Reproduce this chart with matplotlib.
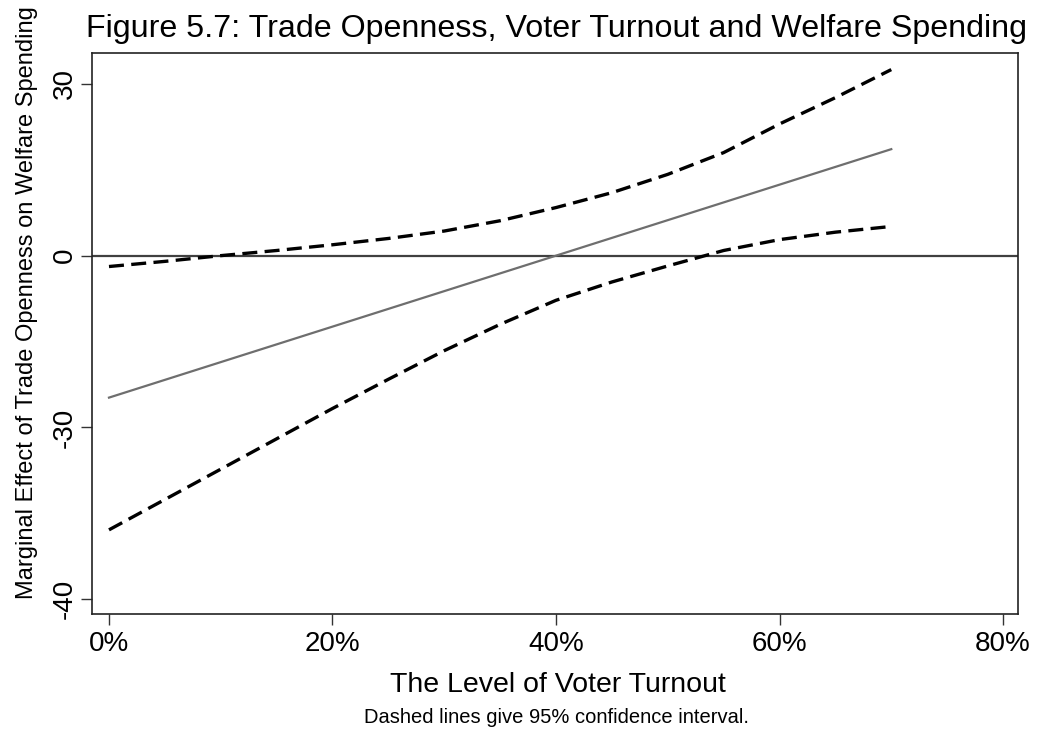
import matplotlib
matplotlib.use("Agg")
import matplotlib.pyplot as plt

plt.rcParams["font.family"] = ["Liberation Sans", "DejaVu Sans"]

# Voter turnout (%) at which the marginal effect is evaluated
turnout = [0, 5, 10, 15, 20, 25, 30, 35, 40, 45, 50, 55, 60, 65, 70]

# Marginal effect of trade openness and its 95% confidence bounds
effect = [-24.8, -21.7, -18.6, -15.5, -12.4, -9.3, -6.2, -3.1, 0.0,
          3.1, 6.2, 9.3, 12.4, 15.5, 18.6]
upper = [-1.9, -1.0, 0.0, 0.9, 1.9, 3.0, 4.3, 6.1, 8.4,
         11.0, 14.2, 18.0, 23.0, 27.6, 32.5]
lower = [-47.9, -42.6, -37.3, -32.0, -26.7, -21.6, -16.6, -12.0, -7.8,
         -4.6, -1.8, 0.9, 2.8, 4.1, 5.1]

xticks = [0, 20, 40, 60, 80]
xticklabels = ["0%", "20%", "40%", "60%", "80%"]
yticks = [30, 0, -30, -60]
yticklabels = ["30", "0", "-30", "-40"]

W, H = 1039, 736
fig = plt.figure(figsize=(W / 100, H / 100), dpi=100)
ax = fig.add_axes([92 / W, 1 - 614 / H, (1018 - 92) / W, (614 - 53) / H])

ax.axhline(0, color="#404040", lw=1.6, zorder=1)
ax.plot(turnout, effect, color="#6e6e6e", lw=1.6, zorder=2)
ax.plot(turnout, upper, color="black", lw=2.4, ls=(0, (4.5, 2.2)), zorder=3)
ax.plot(turnout, lower, color="black", lw=2.4, ls=(0, (4.5, 2.2)), zorder=3)

ax.set_xlim(-1.52, 81.34)
ax.set_ylim(-62.6, 35.4)

ax.set_xticks(xticks)
ax.set_xticklabels(xticklabels)
ax.set_yticks(yticks)
ax.set_yticklabels(yticklabels, rotation=90, va="center")

ax.tick_params(axis="both", direction="out", length=8, width=1, color="#333333",
               labelsize=20)
ax.tick_params(axis="x", pad=4.3)
ax.tick_params(axis="y", pad=2.2)
for s in ax.spines.values():
    s.set_linewidth(1.2)
    s.set_color("#222222")

# Titles and note placed in pixel coordinates of the figure
def px(x, y):
    return x / W, 1 - y / H

fig.text(*px(556, 37), "Figure 5.7: Trade Openness, Voter Turnout and Welfare Spending",
         ha="center", va="baseline", fontsize=23.2)
fig.text(*px(558, 692), "The Level of Voter Turnout",
         ha="center", va="baseline", fontsize=20.5)
fig.text(*px(556, 723), "Dashed lines give 95% confidence interval.",
         ha="center", va="baseline", fontsize=14.5)
fig.text(*px(27, 303), "Marginal Effect of Trade Openness on Welfare Spending",
         ha="center", va="center", rotation=90, fontsize=17)

fig.savefig("out.png", dpi=100)
